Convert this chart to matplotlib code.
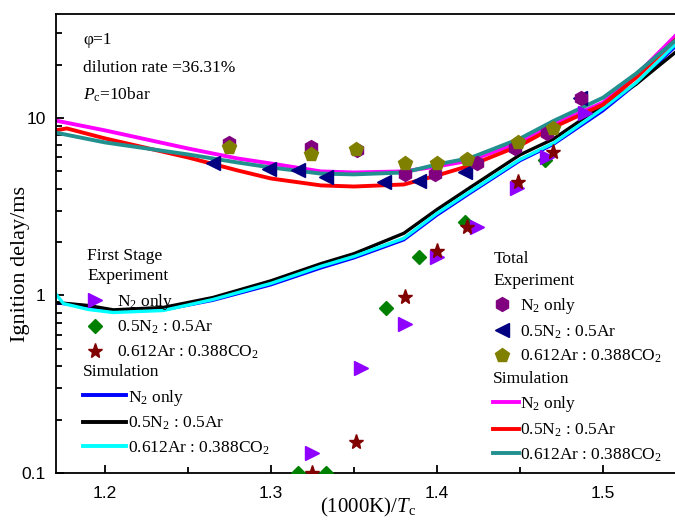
import matplotlib
matplotlib.use('Agg')
import matplotlib.pyplot as plt
from matplotlib.lines import Line2D
from matplotlib.ticker import LogLocator, NullFormatter, MultipleLocator

plt.rcParams['font.family'] = 'Liberation Serif'
plt.rcParams['mathtext.fontset'] = 'custom'
plt.rcParams['mathtext.rm'] = 'Liberation Serif'
plt.rcParams['mathtext.it'] = 'Liberation Serif:italic'

# total ignition delay, experiment
tot_x_n2 = [1.275, 1.324, 1.352, 1.381, 1.399, 1.424, 1.447, 1.466, 1.487]
tot_y_n2 = [7.18, 6.82, 6.56, 4.86, 4.86, 5.61, 6.73, 8.18, 12.9]
tot_x_ar = [1.265, 1.299, 1.316, 1.333, 1.368, 1.389, 1.417, 1.486]
tot_y_ar = [5.61, 5.19, 5.06, 4.62, 4.33, 4.39, 4.93, 13.0]
tot_x_co2 = [1.275, 1.324, 1.351, 1.381, 1.400, 1.418, 1.449, 1.470]
tot_y_co2 = [6.82, 6.23, 6.65, 5.54, 5.54, 5.91, 7.28, 8.73]

# first stage ignition delay, experiment
fs_x_n2 = [1.325, 1.354, 1.381, 1.400, 1.424, 1.448, 1.466, 1.489]
fs_y_n2 = [0.129, 0.393, 0.687, 1.64, 2.42, 4.01, 5.99, 10.7]
fs_x_ar = [1.316, 1.333, 1.369, 1.389, 1.417, 1.465]
fs_y_ar = [0.1, 0.1, 0.845, 1.64, 2.58, 5.76]
fs_x_co2 = [1.325, 1.351, 1.381, 1.400, 1.418, 1.449, 1.470]
fs_y_co2 = [0.1, 0.149, 0.975, 1.79, 2.42, 4.33, 6.39]

# simulations, total
sim_x = [1.17, 1.2, 1.25, 1.28, 1.30, 1.33, 1.35, 1.38, 1.40, 1.42, 1.45, 1.47, 1.50, 1.52, 1.545]
sim_tot_n2 = [9.68, 8.51, 6.73, 5.91, 5.54, 5.0, 4.93, 5.0, 5.33, 5.76, 7.29, 9.2, 12.2, 17.4, 29.9]
sim_tot_co2 = [8.28, 7.28, 6.23, 5.61, 5.26, 4.86, 4.81, 4.93, 5.47, 5.95, 7.65, 9.6, 13.0, 17.8, 28.0]
sim_x_ar = [1.17, 1.177, 1.2, 1.25, 1.28, 1.30, 1.33, 1.35, 1.38, 1.40, 1.42, 1.45, 1.47, 1.50, 1.52, 1.545]
sim_tot_ar = [8.51, 8.73, 7.67, 5.99, 5.06, 4.56, 4.17, 4.11, 4.22, 4.74, 5.40, 7.0, 8.85, 11.9, 16.9, 28.4]

# simulations, first stage
fs_sim_x = [1.17, 1.175, 1.19, 1.205, 1.235, 1.265, 1.30, 1.33, 1.35, 1.38, 1.40, 1.42, 1.45, 1.47, 1.50, 1.52, 1.545]
fs_sim_n2 = [0.913, 0.90, 0.87, 0.815, 0.83, 0.94, 1.15, 1.43, 1.63, 2.06, 2.84, 3.78, 5.75, 7.1, 11.0, 15.6, 26.0]
fs_sim_ar = [0.913, 0.905, 0.878, 0.83, 0.856, 0.974, 1.21, 1.51, 1.72, 2.24, 3.05, 4.06, 6.2, 7.6, 11.8, 15.5, 24.0]
fs_sim_co2 = [1.03, 0.90, 0.834, 0.802, 0.823, 0.949, 1.17, 1.46, 1.66, 2.10, 2.90, 3.85, 5.84, 7.2, 11.3, 15.8, 26.7]

lab_n2 = r'N$_2$ only'
lab_ar = r'0.5N$_2$ : 0.5Ar'
lab_co2 = r'0.612Ar : 0.388CO$_2$'

c_tri = '#8F00FF'
c_dia = '#008000'
c_star = '#800000'
c_hex = '#800080'
c_ltri = '#000080'
c_pent = '#808000'
c_teal = '#22908F'

fig = plt.figure(figsize=(6.75, 5.25), dpi=100)
ax = fig.add_axes([0.083, 0.099, 0.92, 0.8743])

# simulation curves
ax.plot(fs_sim_x, fs_sim_n2, color='blue', lw=2.4, zorder=2)
ax.plot(fs_sim_x, fs_sim_ar, color='black', lw=2.4, zorder=2)
ax.plot(fs_sim_x, fs_sim_co2, color='cyan', lw=2.4, zorder=2)
ax.plot(sim_x, sim_tot_n2, color='magenta', lw=2.8, zorder=2)
ax.plot(sim_x_ar, sim_tot_ar, color='red', lw=2.8, zorder=2)
ax.plot(sim_x, sim_tot_co2, color=c_teal, lw=2.8, zorder=2)

# experiments
ms = dict(linestyle='none', zorder=3)
ax.plot(fs_x_ar, fs_y_ar, marker='D', ms=7.5, color=c_dia, **ms)
ax.plot(fs_x_n2, fs_y_n2, marker='>', ms=9.5, color=c_tri, **ms)
ax.plot(fs_x_co2, fs_y_co2, marker='*', ms=11, color=c_star, **ms)
ax.plot(tot_x_ar, tot_y_ar, marker='<', ms=10, color=c_ltri, **ms)
ax.plot(tot_x_n2, tot_y_n2, marker='h', ms=10, color=c_hex, **ms)
ax.plot(tot_x_co2, tot_y_co2, marker='p', ms=10.5, color=c_pent, **ms)

ax.set_yscale('log')
ax.set_xlim(1.1705, 1.5446)
ax.set_ylim(0.1, 38.5)
ax.set_xticks([1.2, 1.3, 1.4, 1.5])
ax.xaxis.set_minor_locator(MultipleLocator(0.05))
ax.set_yticks([0.1, 1, 10])
ax.set_yticklabels(['0.1', '1', '10'])
ax.yaxis.set_minor_locator(LogLocator(base=10, subs=range(2, 10)))
ax.yaxis.set_minor_formatter(NullFormatter())
ax.tick_params(which='both', direction='in', top=False, right=False, width=1.3,
               labelsize=12.5, labelfontfamily='Liberation Sans')
ax.tick_params(which='major', length=6)
ax.tick_params(which='minor', length=4)
ax.tick_params(axis='x', pad=9.5)
ax.tick_params(axis='y', pad=7.5)
for s in ax.spines.values():
    s.set_linewidth(1.3)

ax.set_ylabel('Ignition delay/ms', fontsize=16)
ax.yaxis.set_label_coords(-0.042, 0.455)
ax.set_xlabel(r'(1000K)/$T_{\rm c}$', fontsize=15)
ax.xaxis.set_label_coords(0.502, -0.05)

ax.text(0.0435, 0.943, 'φ=1', transform=ax.transAxes, fontsize=12.5, va='center')
ax.text(0.0435, 0.882, 'dilution rate =36.31%', transform=ax.transAxes, fontsize=12.5, va='center')
ax.text(0.0435, 0.824, r'$P_{\rm c}$=10bar', transform=ax.transAxes, fontsize=12.5, va='center')


def mk(marker, color, size):
    return Line2D([], [], marker=marker, color=color, ms=size, linestyle='none')


def ln(color, lw):
    return Line2D([], [], color=color, lw=lw)


leg_kw = dict(frameon=False, fontsize=12.5, title_fontsize=12.5, loc='upper left',
              borderpad=0, borderaxespad=0, alignment='left', labelspacing=0.42)

leg1 = ax.legend([mk('>', c_tri, 9.5), mk('D', c_dia, 7.5), mk('*', c_star, 11)],
                 [lab_n2, lab_ar, lab_co2], title='First Stage\nExperiment',
                 bbox_to_anchor=(0.05, 0.49), handlelength=0.9, handletextpad=0.8, **leg_kw)
leg1.get_title().set_linespacing(1.35)
ax.add_artist(leg1)
leg2 = ax.legend([ln('blue', 2.8), ln('black', 2.8), ln('cyan', 2.8)],
                 [lab_n2, lab_ar, lab_co2], title='Simulation',
                 bbox_to_anchor=(0.044, 0.237), handlelength=2.45, handletextpad=0.1, **leg_kw)
ax.add_artist(leg2)
leg3 = ax.legend([mk('h', c_hex, 10), mk('<', c_ltri, 10), mk('p', c_pent, 10.5)],
                 [lab_n2, lab_ar, lab_co2], title='Total\nExperiment',
                 bbox_to_anchor=(0.705, 0.483), handlelength=0.9, handletextpad=0.6, **leg_kw)
leg3.get_title().set_linespacing(1.45)
ax.add_artist(leg3)
leg4 = ax.legend([ln('magenta', 2.8), ln('red', 2.8), ln(c_teal, 2.8)],
                 [lab_n2, lab_ar, lab_co2], title='Simulation',
                 bbox_to_anchor=(0.703, 0.222), handlelength=1.5, handletextpad=0.1, **leg_kw)

fig.savefig('out.png', dpi=100)
